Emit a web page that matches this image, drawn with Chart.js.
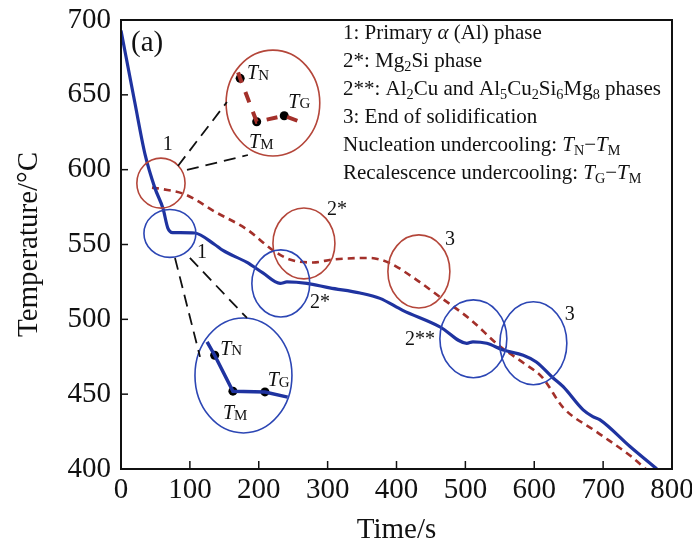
<!DOCTYPE html>
<html>
<head>
<meta charset="utf-8">
<script src="https://cdn.jsdelivr.net/npm/chart.js@4"></script>
<style>
  body { margin: 0; background: #fff; }
</style>
</head>
<body>
<canvas id="myChart" width="692" height="549"></canvas>
<script>
// DATA --------------------------------------------------------------------
const blueTime = [0, 20, 35, 49, 61, 68, 75, 86, 107, 136, 148, 183, 206, 231, 241, 270, 303, 347, 376, 409, 463, 502, 511, 531, 555, 584, 603, 627, 642, 671, 685, 695, 739, 778];
const blueTemp = [693, 645, 610, 588, 574, 561, 558, 558, 557.7, 550, 546, 538, 531, 524, 525, 524, 521, 517.6, 514, 506, 495, 484, 485, 484, 479.5, 476, 471.5, 461, 455, 439.5, 435, 433, 415, 400];

const redTime = [45, 60, 93, 136, 183, 221, 245, 279, 308, 361, 390, 424, 463, 507, 550, 584, 612, 642, 690, 739, 762];
const redTemp = [588, 587, 583.5, 572, 560, 546, 540, 538, 540, 541, 537.6, 528, 515, 500, 482, 471, 461, 441, 425, 409, 400];

// zoomed insets (drawn in the chart's own units)
const redInsetTime = [170, 173, 197, 237, 260];
const redInsetTemp = [665, 661, 632, 636, 632];
const blueInsetTime = [125, 136, 162.5, 209, 242];
const blueInsetTemp = [485, 476, 452, 451.5, 448];
const dotIndex = [1, 2, 3]; // T_N, T_M, T_G

const xTicks = [0, 100, 200, 300, 400, 500, 600, 700, 800];
const yTicks = [400, 450, 500, 550, 600, 650, 700];

// circles: centre time, centre temp, half width (s), half height (°C)
const redCircles = [[58, 591, 35, 16.7], [220.6, 644.5, 68, 35.4], [265.6, 550.7, 45, 23.7], [432.5, 532, 45, 24.4]];
const blueCircles = [[71, 557.4, 37.7, 16], [177.8, 462.5, 70.4, 38.4], [232, 524, 42, 22.4], [511.6, 487, 48.6, 26], [598.7, 484, 48.6, 27.7]];

// dashed leader lines [t1, T1, t2, T2]
const leaders = [[82.7, 602.5, 153.8, 645.2], [95.8, 599.8, 184.3, 609.8], [78.4, 541, 114.7, 474.9], [100, 541, 182.9, 500.9]];

// small labels near the circles [text, time, temp]
const marks = [["1", 68, 616.5], ["1", 117.6, 544.4], ["2*", 313.5, 573], ["2*", 288.8, 511], ["3", 477.5, 553], ["3", 651.7, 503], ["2**", 434, 486.2]];
// T labels [sub, time, temp]
const tLabels = [["N", 183, 664], ["G", 243, 645], ["M", 186, 618], ["N", 144, 480], ["G", 213, 459], ["M", 148, 437]];

const legendLines = [
  [["1: Primary ", "n"], ["α", "i"], [" (Al) phase", "n"]],
  [["2*: Mg", "n"], ["2", "s"], ["Si phase", "n"]],
  [["2**: Al", "n"], ["2", "s"], ["Cu and Al", "n"], ["5", "s"], ["Cu", "n"], ["2", "s"], ["Si", "n"], ["6", "s"], ["Mg", "n"], ["8", "s"], [" phases", "n"]],
  [["3: End of solidification", "n"]],
  [["Nucleation undercooling: ", "n"], ["T", "i"], ["N", "s"], ["−", "n"], ["T", "i"], ["M", "s"]],
  [["Recalescence undercooling: ", "n"], ["T", "i"], ["G", "s"], ["−", "n"], ["T", "i"], ["M", "s"]]
];

// STYLE -------------------------------------------------------------------
const SERIF = "'Liberation Serif', 'DejaVu Serif', serif";
const BLUE = '#1f33a0';
const RED = '#a3302a';
const RED_C = '#b4463a';
const BLUE_C = '#2c46b4';

const pts = (xs, ys) => xs.map((x, i) => ({ x: x, y: ys[i] }));

function richText(ctx, parts, x, y, size) {
  parts.forEach(p => {
    let f = size, dy = 0, st = '';
    if (p[1] === 's') { f = size * 0.68; dy = size * 0.28; }
    if (p[1] === 'i') { st = 'italic '; }
    ctx.font = st + f + 'px ' + SERIF;
    ctx.fillText(p[0], x, y + dy);
    x += ctx.measureText(p[0]).width;
  });
}

const decor = {
  id: 'decor',
  afterDatasetsDraw(chart) {
    const ctx = chart.ctx, a = chart.chartArea;
    const xs = chart.scales.x, ys = chart.scales.y;
    ctx.save();
    // circles
    const drawCircle = (c, col) => {
      const cx = xs.getPixelForValue(c[0]), cy = ys.getPixelForValue(c[1]);
      const rx = Math.abs(xs.getPixelForValue(c[0] + c[2]) - cx);
      const ry = Math.abs(ys.getPixelForValue(c[1] + c[3]) - cy);
      ctx.beginPath();
      ctx.ellipse(cx, cy, rx, ry, 0, 0, Math.PI * 2);
      ctx.strokeStyle = col;
      ctx.lineWidth = 1.6;
      ctx.stroke();
    };
    redCircles.forEach(c => drawCircle(c, RED_C));
    blueCircles.forEach(c => drawCircle(c, BLUE_C));

    // leader lines
    ctx.setLineDash([12, 7]);
    ctx.strokeStyle = '#111';
    ctx.lineWidth = 1.8;
    leaders.forEach(l => {
      ctx.beginPath();
      ctx.moveTo(xs.getPixelForValue(l[0]), ys.getPixelForValue(l[1]));
      ctx.lineTo(xs.getPixelForValue(l[2]), ys.getPixelForValue(l[3]));
      ctx.stroke();
    });
    ctx.setLineDash([]);

    // labels
    ctx.fillStyle = '#111';
    ctx.textAlign = 'center';
    ctx.textBaseline = 'middle';
    ctx.font = '20px ' + SERIF;
    marks.forEach(m => ctx.fillText(m[0], xs.getPixelForValue(m[1]), ys.getPixelForValue(m[2])));
    ctx.textAlign = 'left';
    tLabels.forEach(t => {
      const x = xs.getPixelForValue(t[1]), y = ys.getPixelForValue(t[2]);
      ctx.font = 'italic 20px ' + SERIF;
      ctx.fillText('T', x, y);
      const w = ctx.measureText('T').width;
      ctx.font = '15px ' + SERIF;
      ctx.fillText(t[0], x + w, y + 2);
    });

    ctx.font = '29px ' + SERIF;
    ctx.fillText('(a)', a.left + 10, a.top + 23);

    // legend text
    legendLines.forEach((ln, i) => richText(ctx, ln, a.left + 222, a.top + 13 + i * 28, 21));

    // frame and inward ticks
    ctx.strokeStyle = '#111';
    ctx.lineWidth = 2;
    ctx.strokeRect(a.left, a.top, a.right - a.left, a.bottom - a.top);
    ctx.lineWidth = 1.5;
    xTicks.forEach(v => {
      const x = xs.getPixelForValue(v);
      ctx.beginPath(); ctx.moveTo(x, a.bottom); ctx.lineTo(x, a.bottom - 8); ctx.stroke();
    });
    yTicks.forEach(v => {
      const y = ys.getPixelForValue(v);
      ctx.beginPath(); ctx.moveTo(a.left, y); ctx.lineTo(a.left + 7, y); ctx.stroke();
    });
    ctx.restore();
  }
};

const ctx = document.getElementById('myChart');

new Chart(ctx, {
  type: 'line',
  data: {
    datasets: [
      { data: pts(blueTime, blueTemp), borderColor: BLUE, borderWidth: 3.2, pointRadius: 0, cubicInterpolationMode: 'monotone' },
      { data: pts(redTime, redTemp), borderColor: RED, borderWidth: 2.6, borderDash: [7, 5], pointRadius: 0, cubicInterpolationMode: 'monotone' },
      { data: pts(blueInsetTime, blueInsetTemp), borderColor: BLUE, borderWidth: 3.5, pointRadius: 0 },
      { data: pts(redInsetTime, redInsetTemp), borderColor: RED, borderWidth: 4, borderDash: [11, 10], pointRadius: 0 },
      { data: dotIndex.map(i => ({ x: blueInsetTime[i], y: blueInsetTemp[i] })), showLine: false, pointRadius: 4.5, pointBackgroundColor: '#000', pointBorderWidth: 0 },
      { data: dotIndex.map(i => ({ x: redInsetTime[i], y: redInsetTemp[i] })), showLine: false, pointRadius: 4.5, pointBackgroundColor: '#000', pointBorderWidth: 0 }
    ]
  },
  options: {
    responsive: false,
    animation: false,
    layout: { padding: { top: 20, right: 20, left: 0, bottom: 0 } },
    plugins: { legend: { display: false }, tooltip: { enabled: false } },
    scales: {
      x: {
        type: 'linear', min: 0, max: 800,
        afterFit: s => { s.height = 80; s.paddingLeft = 0; s.paddingRight = 0; },
        afterBuildTicks: s => { s.ticks = xTicks.map(v => ({ value: v })); },
        grid: { display: false, drawTicks: false }, border: { display: false },
        ticks: { color: '#111', padding: 4, maxRotation: 0, font: { family: SERIF, size: 29 } },
        title: { display: true, text: 'Time/s', color: '#111', padding: { top: 0, bottom: 1 }, font: { family: SERIF, size: 29 } }
      },
      y: {
        type: 'linear', min: 400, max: 700,
        afterFit: s => { s.width = 121; s.paddingTop = 0; s.paddingBottom = 0; },
        afterBuildTicks: s => { s.ticks = yTicks.map(v => ({ value: v })); },
        grid: { display: false, drawTicks: false }, border: { display: false },
        ticks: { color: '#111', padding: 10, font: { family: SERIF, size: 29 } },
        title: { display: true, text: 'Temperature/°C', color: '#111', padding: { top: 12, bottom: 0 }, font: { family: SERIF, size: 29 } }
      }
    }
  },
  plugins: [decor]
});
</script>
</body>
</html>
